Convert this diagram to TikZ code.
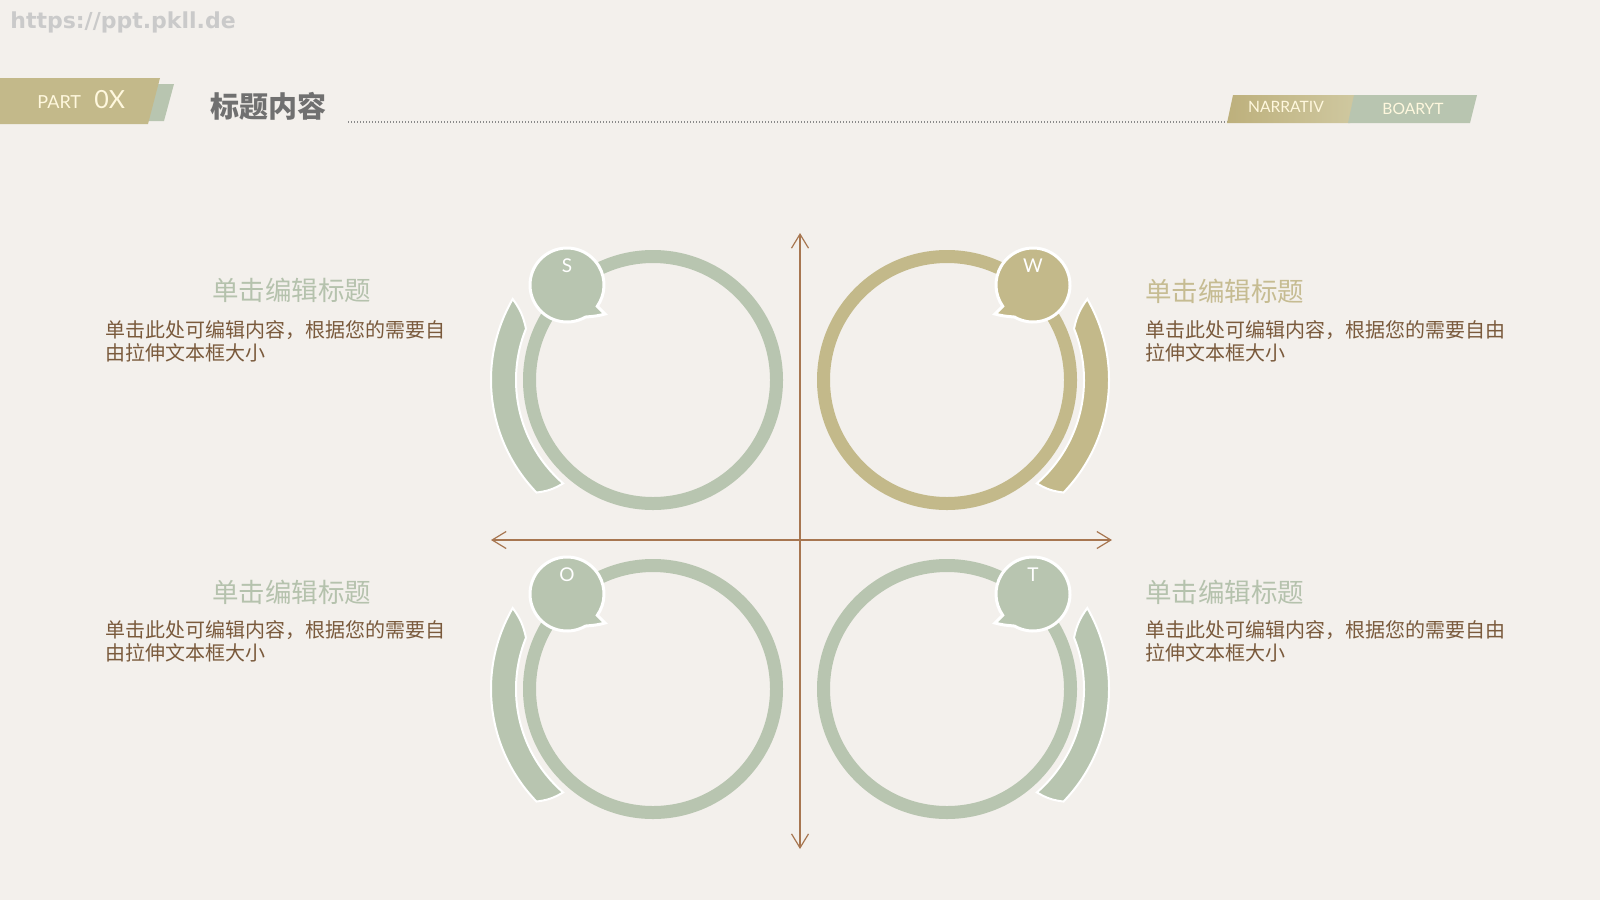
\documentclass[tikz,border=0pt]{standalone}
\usepackage{fontspec}
\setmainfont{Lato}
\newfontfamily\cjk{Noto Sans CJK SC}
\newfontfamily\urlfont{DejaVu Sans}
\usetikzlibrary{arrows.meta}
\definecolor{bgc}{HTML}{F3F0EC}
\definecolor{sage}{HTML}{B8C5B0}
\definecolor{gold}{HTML}{C3B98A}
\definecolor{golddk}{HTML}{BDB07C}
\definecolor{goldlt}{HTML}{CFC8A0}
\definecolor{axisc}{HTML}{A77650}
\definecolor{bodyc}{HTML}{7A5A3C}
\definecolor{titleg}{HTML}{707070}
\definecolor{cream}{HTML}{FFF8DE}
\definecolor{urlc}{HTML}{CACACA}
\definecolor{dotc}{HTML}{8A8A8A}
\definecolor{headg}{HTML}{B5C2AD}
\definecolor{headgold}{HTML}{C6BC92}
\newcommand\swotpart[3]{%
  \begin{scope}[shift={#1}, xscale=#2]
    \draw[line width=6.5pt, #3] (0,0) circle (123.5);
    \fill[#3, draw=white, line width=1pt] (210:162) arc[start angle=210, end angle=136, radius=162]
      to[bend right=12] (131:137) arc[start angle=131, end angle=202, radius=137]
      to[bend right=12] cycle;
    \begin{scope}[shift={(-86,-95)}]
      \fill[#3, draw=white, line width=1.5pt] (60:37) arc[start angle=60, end angle=395, radius=37]
        .. controls (34,25) .. (38,29) .. controls (30,31) .. cycle;
    \end{scope}
  \end{scope}}
\tikzset{
  axisline/.style={axisc, line width=0.6pt, {Straight Barb[length=7pt,width=8.5pt]}-{Straight Barb[length=7pt,width=8.5pt]}},
  letter/.style={text=white, inner sep=0, font=\fontsize{9.5pt}{10pt}\selectfont},
  headtxt/.style={anchor=west, inner sep=0, font=\cjk\fontsize{13.25pt}{15pt}\selectfont},
  bodytxt/.style={anchor=west, inner sep=0, align=left, text=bodyc, font=\cjk\fontsize{10pt}{11.5pt}\selectfont},
  tabtxt/.style={text=cream, inner sep=0, font=\fontsize{7.8pt}{9pt}\selectfont}
}
\begin{document}
\begin{tikzpicture}[x=0.5pt, y=-0.5pt]
\fill[bgc] (0,0) rectangle (1600,900);
\useasboundingbox (0,0) rectangle (1600,900);
% url
\node[anchor=base west, inner sep=0, text=urlc, font=\urlfont\bfseries\fontsize{11pt}{12pt}\selectfont] (url) at (10,28) {https://ppt.pkll.de};
% header
\fill[sage] (150,84) -- (174,84) -- (164,121) -- (140,121) -- cycle;
\fill[gold] (0,78) -- (160,78) -- (148,124) -- (0,124) -- cycle;
\node[anchor=base west, inner sep=0, text=cream, font=\fontsize{9pt}{10pt}\selectfont] (part) at (37,108) {PART};
\node[anchor=base west, inner sep=0, text=cream, font=\fontsize{12.5pt}{14pt}\selectfont] (ox) at (94,108) {0X};
\node[anchor=west, inner sep=0, text=titleg, font=\cjk\bfseries\fontsize{14.5pt}{16pt}\selectfont] (title) at (210,106) {标题内容};
\coordinate (d1) at (348,122);
\coordinate (d2) at (1240,122);
\draw[dotc, line width=0.9pt, dash pattern=on 0.6pt off 0.9pt] (d1) -- (d2);
\shade[left color=golddk, right color=goldlt] (1233,95) -- (1356,95) -- (1350,123) -- (1227,123) -- cycle;
\fill[sage] (1354,95) -- (1477,95) -- (1470,123) -- (1348,123) -- cycle;
\node[tabtxt] (narr) at (1286,107) {NARRATIV};
\node[tabtxt] (boar) at (1413,109) {BOARYT};
% axes
\coordinate (vt) at (800,233);
\coordinate (vb) at (800,849);
\coordinate (hl) at (491,540);
\coordinate (hr) at (1112,540);
\draw[axisline] (vt) -- (vb);
\draw[axisline] (hl) -- (hr);
% quadrants
\swotpart{(653,380)}{1}{sage}
\swotpart{(947,380)}{-1}{gold}
\swotpart{(653,689)}{1}{sage}
\swotpart{(947,689)}{-1}{sage}
\node[letter] (s) at (567,266) {S};
\node[letter] (w) at (1033,266) {W};
\node[letter] (o) at (567,575) {O};
\node[letter] (t) at (1033,575) {T};
% texts
\node[headtxt, text=headg] (h1) at (212,290) {单击编辑标题};
\node[bodytxt] (b1) at (105,341.5) {单击此处可编辑内容，根据您的需要自\\由拉伸文本框大小};
\node[headtxt, text=headgold] (h2) at (1145,291) {单击编辑标题};
\node[bodytxt] (b2) at (1145,341.5) {单击此处可编辑内容，根据您的需要自由\\拉伸文本框大小};
\node[headtxt, text=headg] (h3) at (212,592) {单击编辑标题};
\node[bodytxt] (b3) at (105,641.5) {单击此处可编辑内容，根据您的需要自\\由拉伸文本框大小};
\node[headtxt, text=headg] (h4) at (1145,592) {单击编辑标题};
\node[bodytxt] (b4) at (1145,641.5) {单击此处可编辑内容，根据您的需要自由\\拉伸文本框大小};
\end{tikzpicture}
\end{document}
